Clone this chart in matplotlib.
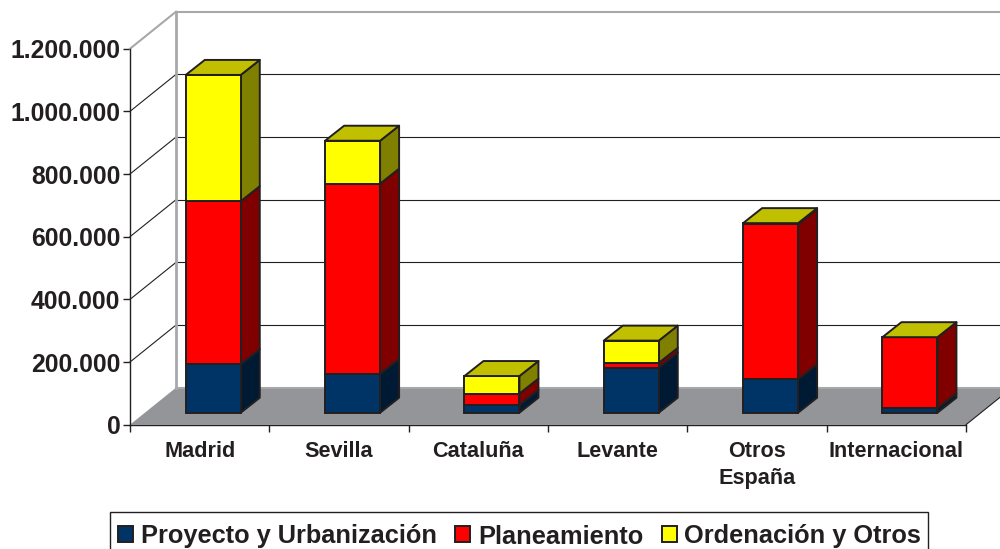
import matplotlib
matplotlib.use('Agg')
import matplotlib.pyplot as plt
from matplotlib.patches import Patch, Polygon, Rectangle
from matplotlib.transforms import Affine2D, IdentityTransform

categories = ['Madrid', 'Sevilla', 'Cataluña', 'Levante', 'Otros\nEspaña', 'Internacional']
proyecto = [155000, 124000, 25000, 144000, 107000, 14000]
planeamiento = [520000, 607000, 36000, 15000, 495000, 227000]
ordenacion = [403000, 137000, 56000, 71000, 3000, 0]
series_names = ['Proyecto y Urbanización', 'Planeamiento', 'Ordenación y Otros']
yticks = [0, 200000, 400000, 600000, 800000, 1000000, 1200000]
ylabels = ['0', '200.000', '400.000', '600.000', '800.000', '1.000.000', '1.200.000']

INK = '#231f20'
front = ['#003366', '#ff0000', '#ffff00']
side = ['#001a33', '#800000', '#808000']
top_col = '#c0c000'

plt.rcParams['font.family'] = ['Liberation Sans', 'DejaVu Sans']
plt.rcParams['font.weight'] = 'bold'

W, H = 1000, 549
fig = plt.figure(figsize=(W / 100, H / 100), dpi=100)
# front plane of the fake 3d box, pixels from top left
left, right, y0, y1 = 130, 966, 424.7, 48.7
ax = fig.add_axes([left / W, 1 - y0 / H, (right - left) / W, (y0 - y1) / H])
ax.set_xlim(0, 6)
ax.set_ylim(0, 1200000)
ax.patch.set_alpha(0)

# depth of the box and of the bars, pixels
BOX_DX, BOX_DY = 46, 37
BAR_DX, BAR_DY = 13.6, 12
BAR_SIDE_DX, BAR_SIDE_DY = 19, 15
BAR_W = 55 / 139.33
EDGE = 1.4


def pt(x, v, dx=0, dy=0):
    px, py = ax.transData.transform((x, v))
    return (px + dx, py + dy)


def poly(points, **kw):
    ax.add_patch(Polygon(points, closed=True, transform=IdentityTransform(),
                         clip_on=False, **kw))


# floor
poly([pt(0, 0), pt(6, 0), pt(6, 0, BOX_DX, BOX_DY), pt(0, 0, BOX_DX, BOX_DY)],
     facecolor='#939598', edgecolor='none', zorder=1)

# walls and gridlines
for v in yticks:
    col = '#a6a8ab' if v in (0, 1200000) else INK
    lw = 1.5 if v in (0, 1200000) else 0.8
    a = pt(0, v)
    b = pt(0, v, BOX_DX, BOX_DY)
    c = pt(6, v, BOX_DX, BOX_DY)
    if v != 0:
        ax.plot([a[0], b[0]], [a[1], b[1]], color=col, lw=lw,
                transform=IdentityTransform(), clip_on=False, zorder=2)
    ax.plot([b[0], c[0]], [b[1], c[1]], color=col, lw=lw,
            transform=IdentityTransform(), clip_on=False, zorder=2)
b = pt(0, 0, BOX_DX, BOX_DY)
c = pt(0, 1200000, BOX_DX, BOX_DY)
ax.plot([b[0], c[0]], [b[1], c[1]], color='#a6a8ab', lw=2,
        transform=IdentityTransform(), clip_on=False, zorder=2)
# front right edge of the floor
ax.plot([pt(6, 0)[0], pt(6, 0, BOX_DX, BOX_DY)[0]], [pt(6, 0)[1], pt(6, 0, BOX_DX, BOX_DY)[1]],
        color=INK, lw=0.8, transform=IdentityTransform(), clip_on=False, zorder=2)

# bars
shift = Affine2D().translate(BAR_DX, BAR_DY)
bar_tr = ax.transData + shift
xs = [i + 0.5 for i in range(len(categories))]
bottoms = [0] * len(categories)
z = 3
for values, fc, sc in zip([proyecto, planeamiento, ordenacion], front, side):
    for i, x in enumerate(xs):
        v = values[i]
        if v == 0:
            continue
        xr = x + BAR_W / 2
        b0 = bottoms[i]
        a = pt(xr, b0, BAR_DX, BAR_DY)
        d = pt(xr, b0 + v, BAR_DX, BAR_DY)
        poly([a, d, (d[0] + BAR_SIDE_DX, d[1] + BAR_SIDE_DY), (a[0] + BAR_SIDE_DX, a[1] + BAR_SIDE_DY)],
             facecolor=sc, edgecolor=INK, lw=EDGE, joinstyle='round', zorder=z)
    ax.bar(xs, values, BAR_W, bottom=bottoms, color=fc, edgecolor=INK, lw=EDGE,
           transform=bar_tr, clip_on=False, zorder=z + 1)
    bottoms = [p + q for p, q in zip(bottoms, values)]
    z += 2

# bar tops
for x, total in zip(xs, bottoms):
    p = pt(x - BAR_W / 2, total, BAR_DX, BAR_DY)
    q = pt(x + BAR_W / 2, total, BAR_DX, BAR_DY)
    poly([p, q, (q[0] + BAR_SIDE_DX, q[1] + BAR_SIDE_DY), (p[0] + BAR_SIDE_DX, p[1] + BAR_SIDE_DY)],
         facecolor=top_col, edgecolor=INK, lw=EDGE, joinstyle='round', zorder=z)

# axes
for s in ['top', 'right']:
    ax.spines[s].set_visible(False)
for s in ['left', 'bottom']:
    ax.spines[s].set_color(INK)
    ax.spines[s].set_linewidth(1.0)
    ax.spines[s].set_zorder(20)
ax.set_yticks(yticks)
ax.set_yticklabels(ylabels, fontsize=17.8, color=INK, fontweight='bold')
ax.set_xticks(range(7))
ax.set_xticklabels([])
ax.set_xticks(xs, minor=True)
ax.set_xticklabels(categories, minor=True, fontsize=15.6, color=INK, fontweight='bold', linespacing=1.4)
ax.tick_params(axis='x', which='minor', length=0, pad=11.5)
ax.tick_params(axis='x', which='major', length=5, width=1, color=INK)
ax.tick_params(axis='y', length=5, width=1, color=INK, pad=2)

# legend frame runs off the bottom of the image
fig.add_artist(Rectangle((110 / W, 1 - 560 / H), 818 / W, 48 / H, transform=fig.transFigure,
                         facecolor='white', edgecolor=INK, lw=1.0))
handles = [Patch(facecolor=f, edgecolor=INK, lw=1.4) for f in front]
leg = fig.legend(handles, series_names, ncol=3, loc='center left',
                 bbox_to_anchor=(118 / W, 1 - 536 / H), fontsize=18.3,
                 frameon=False, handlelength=0.59, handleheight=0.59, handletextpad=0.3,
                 columnspacing=0.73, borderpad=0, borderaxespad=0)
for t in leg.get_texts():
    t.set_color(INK)
    t.set_fontweight('bold')
# no descender in this label, the legend packs it higher than the others
leg.get_texts()[1].set_position((0, -1.2))

fig.savefig('out.png', dpi=100)
